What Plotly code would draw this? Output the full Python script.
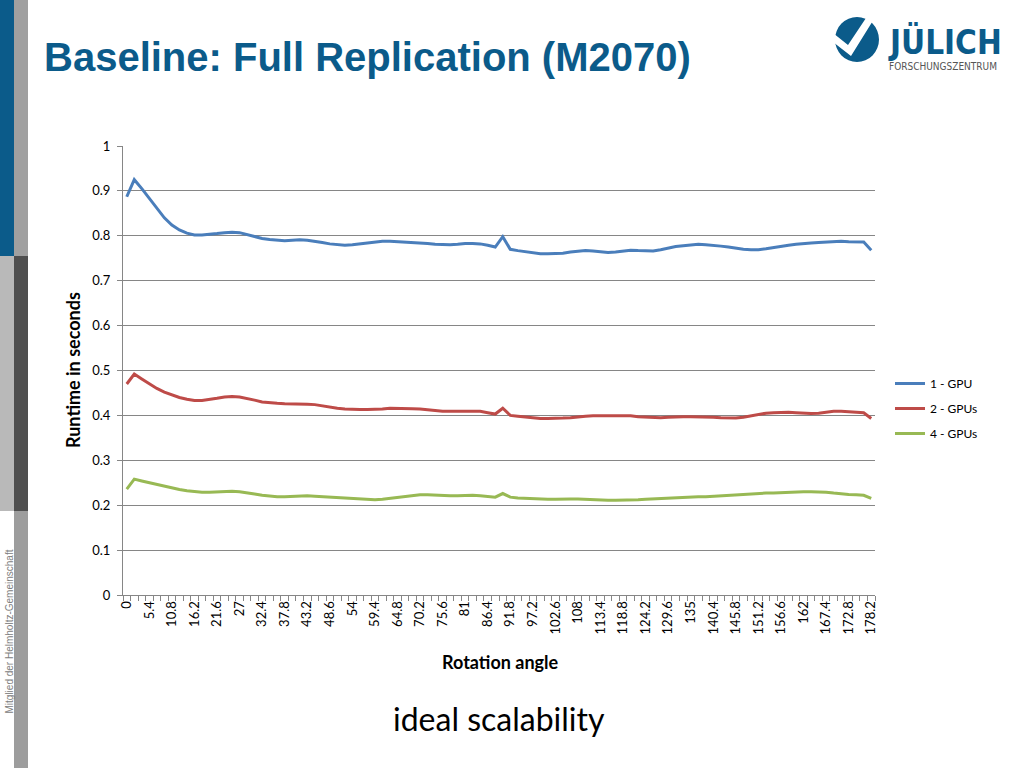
import plotly.graph_objects as go

angles = [0, 1.8, 3.6, 5.4, 7.2, 9, 10.8, 12.6, 14.4, 16.2,
          18, 19.8, 21.6, 23.4, 25.2, 27, 28.8, 30.6, 32.4, 34.2,
          36, 37.8, 39.6, 41.4, 43.2, 45, 46.8, 48.6, 50.4, 52.2,
          54, 55.8, 57.6, 59.4, 61.2, 63, 64.8, 66.6, 68.4, 70.2,
          72, 73.8, 75.6, 77.4, 79.2, 81, 82.8, 84.6, 86.4, 88.2,
          90, 91.8, 93.6, 95.4, 97.2, 99, 100.8, 102.6, 104.4, 106.2,
          108, 109.8, 111.6, 113.4, 115.2, 117, 118.8, 120.6, 122.4, 124.2,
          126, 127.8, 129.6, 131.4, 133.2, 135, 136.8, 138.6, 140.4, 142.2,
          144, 145.8, 147.6, 149.4, 151.2, 153, 154.8, 156.6, 158.4, 160.2,
          162, 163.8, 165.6, 167.4, 169.2, 171, 172.8, 174.6, 176.4, 178.2]

shown_labels = ["0", "5.4", "10.8", "16.2", "21.6", "27", "32.4", "37.8", "43.2",
                "48.6", "54", "59.4", "64.8", "70.2", "75.6", "81", "86.4", "91.8",
                "97.2", "102.6", "108", "113.4", "118.8", "124.2", "129.6", "135",
                "140.4", "145.8", "151.2", "156.6", "162", "167.4", "172.8", "178.2"]

gpu1 = [0.887, 0.925, 0.905, 0.884, 0.862, 0.840, 0.824, 0.813, 0.806, 0.802,
        0.802, 0.803, 0.805, 0.807, 0.808, 0.807, 0.803, 0.798, 0.794, 0.792,
        0.790, 0.789, 0.790, 0.791, 0.790, 0.788, 0.785, 0.782, 0.780, 0.779,
        0.780, 0.782, 0.785, 0.787, 0.788, 0.788, 0.787, 0.786, 0.786, 0.784,
        0.783, 0.781, 0.780, 0.780, 0.781, 0.783, 0.783, 0.782, 0.779, 0.775,
        0.798, 0.770, 0.767, 0.765, 0.762, 0.760, 0.760, 0.760, 0.761, 0.764,
        0.766, 0.767, 0.766, 0.764, 0.763, 0.764, 0.766, 0.768, 0.767, 0.766,
        0.766, 0.769, 0.773, 0.776, 0.778, 0.780, 0.781, 0.780, 0.779, 0.777,
        0.775, 0.772, 0.770, 0.769, 0.769, 0.771, 0.774, 0.777, 0.779, 0.781,
        0.783, 0.784, 0.785, 0.786, 0.787, 0.788, 0.787, 0.786, 0.786, 0.768]

gpu2 = [0.470, 0.492, 0.481, 0.470, 0.460, 0.452, 0.446, 0.440, 0.436, 0.433,
        0.433, 0.435, 0.438, 0.441, 0.442, 0.441, 0.438, 0.434, 0.430, 0.428,
        0.427, 0.426, 0.426, 0.426, 0.425, 0.424, 0.421, 0.418, 0.416, 0.414,
        0.413, 0.413, 0.413, 0.413, 0.414, 0.416, 0.416, 0.415, 0.415, 0.414,
        0.412, 0.410, 0.409, 0.409, 0.409, 0.410, 0.410, 0.409, 0.406, 0.403,
        0.416, 0.400, 0.398, 0.396, 0.394, 0.393, 0.393, 0.393, 0.394, 0.395,
        0.397, 0.398, 0.399, 0.399, 0.399, 0.400, 0.400, 0.399, 0.397, 0.396,
        0.395, 0.395, 0.396, 0.397, 0.397, 0.397, 0.397, 0.396, 0.396, 0.395,
        0.394, 0.394, 0.396, 0.399, 0.403, 0.405, 0.406, 0.407, 0.407, 0.406,
        0.405, 0.404, 0.405, 0.407, 0.409, 0.409, 0.408, 0.407, 0.406, 0.393]

gpu4 = [0.236, 0.258, 0.254, 0.250, 0.246, 0.242, 0.238, 0.235, 0.232, 0.230,
        0.229, 0.229, 0.230, 0.231, 0.231, 0.230, 0.228, 0.225, 0.222, 0.220,
        0.219, 0.219, 0.220, 0.221, 0.221, 0.220, 0.219, 0.218, 0.217, 0.215,
        0.214, 0.213, 0.212, 0.212, 0.213, 0.215, 0.218, 0.220, 0.222, 0.223,
        0.223, 0.222, 0.221, 0.221, 0.221, 0.222, 0.222, 0.221, 0.219, 0.218,
        0.226, 0.218, 0.216, 0.215, 0.214, 0.213, 0.213, 0.213, 0.214, 0.214,
        0.214, 0.213, 0.212, 0.212, 0.211, 0.211, 0.211, 0.211, 0.212, 0.213,
        0.214, 0.215, 0.216, 0.216, 0.217, 0.218, 0.219, 0.219, 0.220, 0.221,
        0.222, 0.224, 0.225, 0.226, 0.226, 0.227, 0.227, 0.228, 0.229, 0.229,
        0.230, 0.230, 0.230, 0.229, 0.227, 0.225, 0.224, 0.223, 0.222, 0.215]

series_names = ["1 - GPU", "2 - GPUs", "4 - GPUs"]
series_colors = ["#4a7ebb", "#be4b48", "#98b954"]

cats = [f"{a:g}" for a in angles]
ticktext = [c if c in shown_labels else "" for c in cats]

FONT = "Lato, Carlito, Calibri, 'Open Sans', sans-serif"

# plot area in pixels
L, R, T, B = 123, 875, 146, 595
W, H = R - L, B - T


def X(px):
    return (px - L) / W


def Y(py):
    return (B - py) / H


fig = go.Figure()
for i, (name, vals, col) in enumerate(zip(series_names, [gpu1, gpu2, gpu4], series_colors)):
    fig.add_trace(go.Scatter(x=cats, y=vals, mode="lines", name=name,
                             legendgroup=f"g{i}",
                             line=dict(color=col, width=3)))

shapes = []


def rect(x0, y0, x1, y1, color):
    shapes.append(dict(type="rect", xref="paper", yref="paper",
                       x0=X(x0), x1=X(x1), y0=Y(y1), y1=Y(y0),
                       fillcolor=color, line=dict(width=0), layer="below"))


rect(0, 0, 14, 256, "#0b5b8a")
rect(14, 0, 28, 256, "#a0a0a0")
rect(0, 256, 14, 511, "#b9b9b9")
rect(14, 256, 28, 511, "#4f4f4f")
rect(14, 511, 28, 768, "#9d9d9d")

# logo circle
shapes.append(dict(type="circle", xref="paper", yref="paper",
                   x0=X(835), x1=X(879), y0=Y(62), y1=Y(17),
                   fillcolor="#0b5b8a", line=dict(width=0)))
pts = [(833, 33), (848, 45), (868, 15), (874, 19), (851, 56), (833, 42)]
path = "M " + " L ".join(f"{X(a)},{Y(b)}" for a, b in pts) + " Z"
shapes.append(dict(type="path", xref="paper", yref="paper", path=path,
                   fillcolor="white", line=dict(width=0)))

COND = "'DejaVu Sans Condensed', 'Liberation Sans Narrow', sans-serif"
annotations = [
    dict(text="<b>Runtime in seconds</b>", xref="paper", yref="paper", x=X(73), y=Y(370),
         textangle=-90, showarrow=False, font=dict(family=FONT, size=18, color="#000"),
         xanchor="center", yanchor="middle"),
    dict(text="<b>Rotation angle</b>", xref="paper", yref="paper", x=X(500), y=Y(662),
         showarrow=False, font=dict(family=FONT, size=18, color="#000"),
         xanchor="center", yanchor="middle"),
    dict(text="ideal scalability", xref="paper", yref="paper", x=X(499), y=Y(718),
         showarrow=False, font=dict(family=FONT, size=32, color="#000"),
         xanchor="center", yanchor="middle"),
    dict(text="Mitglied der Helmholtz-Gemeinschaft", xref="paper", yref="paper",
         x=X(8.5), y=Y(632), textangle=-90, showarrow=False,
         font=dict(family="Liberation Sans, Arial, sans-serif", size=10, color="#808080"),
         xanchor="center", yanchor="middle"),
    dict(text="<b>JÜLICH</b>", xref="paper", yref="paper", x=X(886), y=Y(42),
         showarrow=False, xanchor="left", yanchor="middle",
         font=dict(family=COND, size=33, color="#0b5b8a")),
    dict(text="FORSCHUNGSZENTRUM", xref="paper", yref="paper", x=X(887), y=Y(66),
         showarrow=False, xanchor="left", yanchor="middle",
         font=dict(family=COND, size=10, color="#555555")),
]

fig.update_layout(
    width=1024, height=768,
    margin=dict(l=L, r=1024 - R, t=T, b=768 - B, pad=0),
    paper_bgcolor="white", plot_bgcolor="white",
    title=dict(text="<b>Baseline: Full Replication (M2070)</b>",
               x=44 / 1024, xanchor="left", y=1 - 57 / 768, yanchor="middle",
               xref="container", yref="container",
               font=dict(family="Liberation Sans, Arial, sans-serif", size=40, color="#0b5b8a")),
    showlegend=True,
    legend=dict(x=X(890), y=Y(369), xanchor="left", yanchor="top",
                font=dict(family=FONT, size=12, color="#000"),
                tracegroupgap=6, bgcolor="rgba(0,0,0,0)", itemwidth=30),
    shapes=shapes,
    annotations=annotations,
    xaxis=dict(type="category", tickmode="array", tickvals=cats, ticktext=ticktext,
               tickangle=-90, tickson="boundaries", ticks="outside", ticklen=5,
               tickcolor="#868686", showgrid=False, showline=True, linecolor="#868686",
               linewidth=1, tickfont=dict(family=FONT, size=13, color="#000"),
               range=[-0.5, 99.5], zeroline=False),
    yaxis=dict(range=[0, 1], dtick=0.1, tick0=0, showgrid=True, gridcolor="#868686",
               gridwidth=1, showline=True, linecolor="#868686", ticks="outside",
               ticklen=5, tickcolor="#868686", zeroline=False,
               tickfont=dict(family=FONT, size=13, color="#000"), ticklabelstandoff=4),
)

fig.write_html("out.html", config={"displayModeBar": False},
               post_script="document.body.style.margin='0';document.body.style.overflow='hidden';")
